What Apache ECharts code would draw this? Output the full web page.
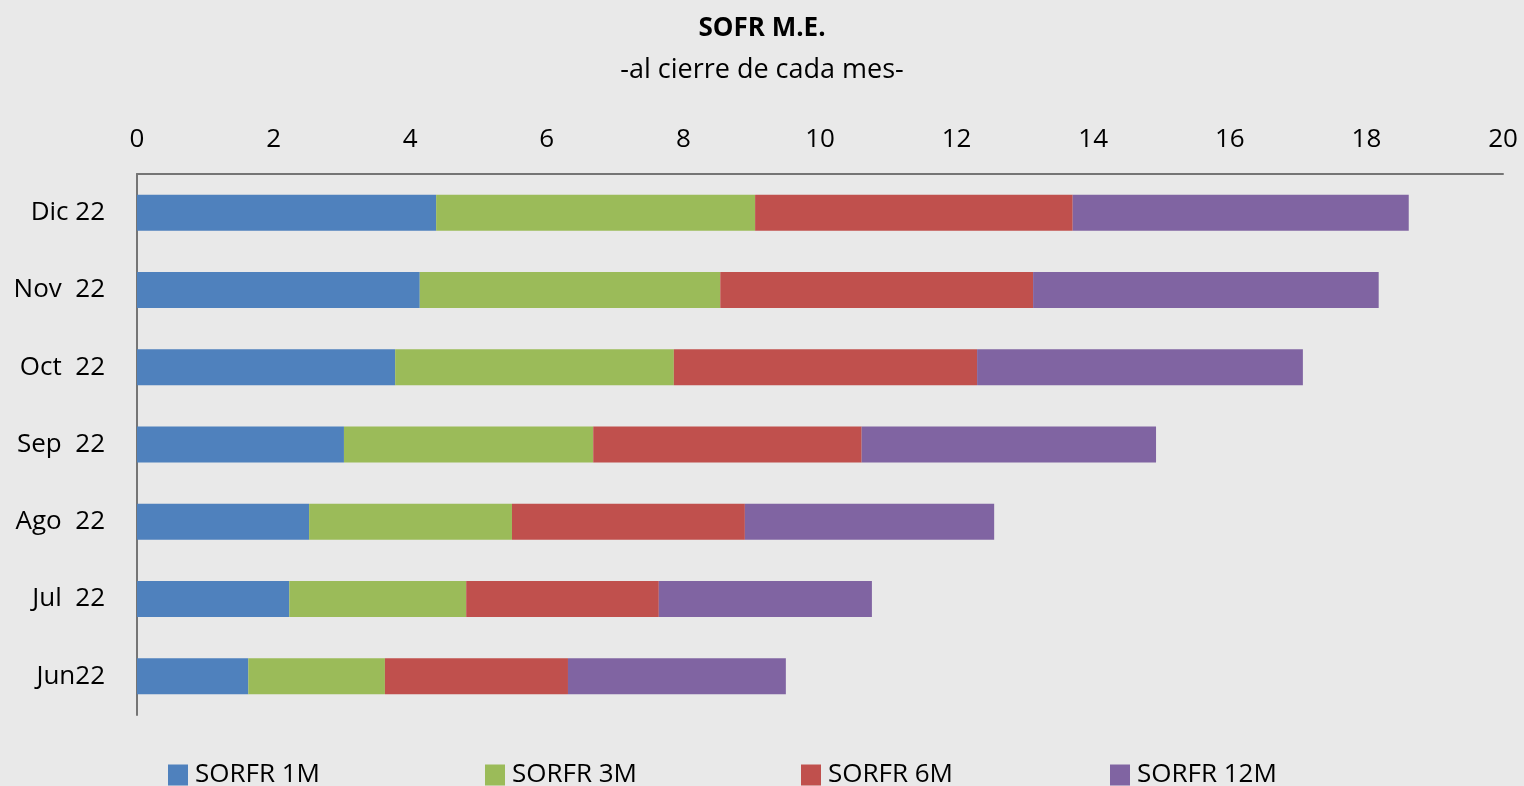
<!DOCTYPE html>
<html>
<head>
<meta charset="utf-8">
<script src="https://cdn.jsdelivr.net/npm/echarts@6/dist/echarts.min.js"></script>
<style>
    html, body { margin: 0; padding: 0; background: #e9e9e9; }
    #grafico_sofr { width: 1524px; height: 786px; }
</style>
</head>
<body>
<div id="grafico_sofr"></div>
<script>
    // meses, de abajo hacia arriba
    var meses = ['Jun22', 'Jul  22', 'Ago  22', 'Sep  22', 'Oct  22', 'Nov  22', 'Dic 22'];
    var sofr_1m  = [1.63, 2.23, 2.52, 3.03, 3.78, 4.14, 4.38];
    var sofr_3m  = [2.00, 2.59, 2.97, 3.65, 4.08, 4.40, 4.67];
    var sofr_6m  = [2.68, 2.82, 3.41, 3.93, 4.44, 4.58, 4.65];
    var sofr_12m = [3.19, 3.12, 3.65, 4.31, 4.77, 5.06, 4.92];
    var nombres = ['SORFR 1M', 'SORFR 3M', 'SORFR 6M', 'SORFR 12M'];
    var colores = ['#4F81BD', '#9BBB59', '#C0504D', '#8064A2'];
    var leyenda_x = [163, 480, 796, 1105];

    var fuente = '"Open Sans", "Noto Sans", sans-serif';
    var valores = [sofr_1m, sofr_3m, sofr_6m, sofr_12m];

    var series = [], leyendas = [];
    for (var i = 0; i < nombres.length; i++) {
        series.push({
            name: nombres[i],
            type: 'bar',
            stack: 'total',
            barWidth: 36,
            data: valores[i],
            itemStyle: { color: colores[i] }
        });
        leyendas.push({
            data: [nombres[i]],
            left: leyenda_x[i],
            top: 757,
            itemWidth: 20,
            itemHeight: 21,
            itemGap: 0,
            icon: 'rect',
            textStyle: { fontFamily: fuente, fontSize: 26, color: '#000', padding: [0, 0, 0, 2] }
        });
    }

    var myChart = echarts.init(document.getElementById('grafico_sofr'));
    var option = {
        backgroundColor: '#e9e9e9',
        animation: false,
        title: {
            text: 'SOFR M.E.',
            subtext: '-al cierre de cada mes-',
            left: 'center',
            top: 11,
            itemGap: 15,
            textStyle: { fontFamily: fuente, fontSize: 26, fontWeight: 'bold', color: '#000' },
            subtextStyle: { fontFamily: fuente, fontSize: 27, color: '#000' }
        },
        legend: leyendas,
        grid: {
            left: 137,
            right: 21,
            top: 174,
            bottom: 71,
            containLabel: false
        },
        xAxis: {
            type: 'value',
            position: 'top',
            min: 0,
            max: 20,
            interval: 2,
            axisLine: { show: true, lineStyle: { color: '#757575', width: 2 } },
            axisTick: { show: false },
            splitLine: { show: false },
            axisLabel: { fontFamily: fuente, fontSize: 26, color: '#000', margin: 21 }
        },
        yAxis: {
            type: 'category',
            data: meses,
            axisLine: { show: true, lineStyle: { color: '#757575', width: 2 } },
            axisTick: { show: false },
            axisLabel: { fontFamily: fuente, fontSize: 26, color: '#000', margin: 32 }
        },
        series: series
    };
    myChart.setOption(option);
</script>
</body>
</html>
